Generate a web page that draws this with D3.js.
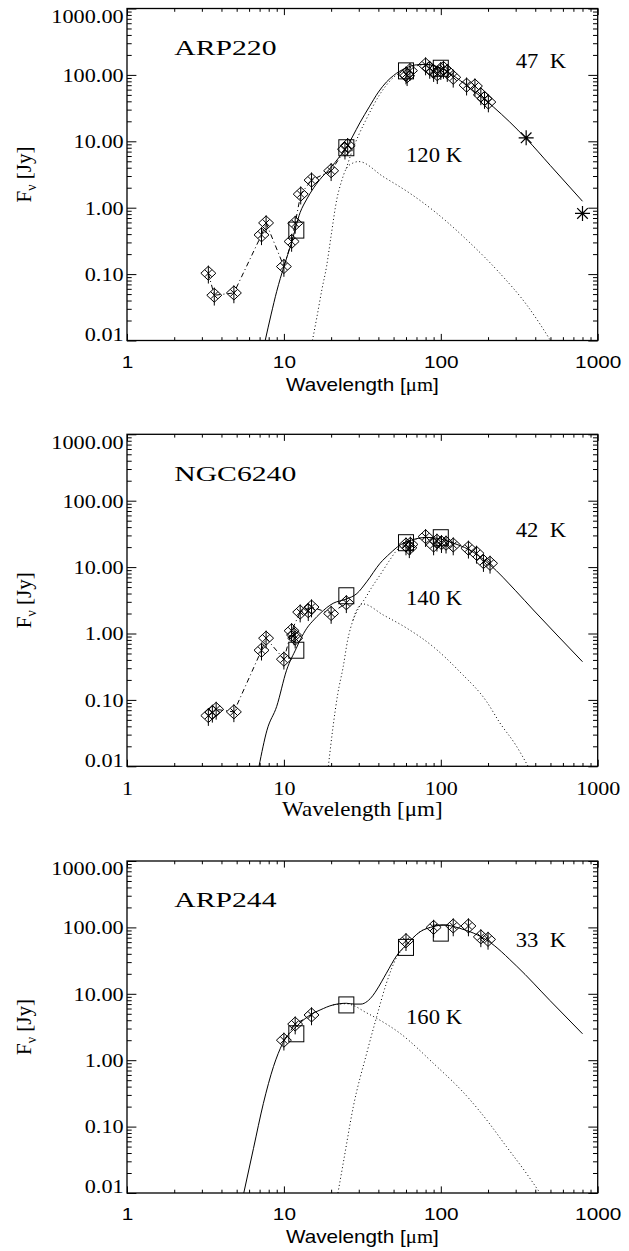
<!DOCTYPE html>
<html><head><meta charset="utf-8">
<script src="https://cdn.jsdelivr.net/npm/d3@7"></script>
<style>body{margin:0;background:#fff}svg{display:block}</style>
</head><body>
<svg id="c" width="629" height="1251"></svg>
<script>
// ---------------- DATA (wavelength [um], flux [Jy]) ----------------
const galaxyNames = ["ARP220", "NGC6240", "ARP244"];
const xTickLabels = ["1", "10", "100", "1000"];
const yTickLabels = ["0.01", "0.10", "1.00", "10.00", "100.00", "1000.00"];

// ARP220
const arp220Diamonds = [[3.3,0.103],[3.6,0.048],[4.8,0.052],[7.2,0.39],[7.7,0.59],[10,0.13],[11.2,0.31],[11.8,0.58],[12.8,1.6],[15,2.6],[20,3.6],[24.5,7.6],[25.5,8.6],
  [60,103],[61,97],[63.6,116],[80,141],[85,125],[90,112],[95,104],[100,120],[104,125],[110,112],[120,92],[146,70],[165,68],[180,50],[190,44],[201,39]];
const arp220Squares = [[12,0.46],[25,8.0],[60,115],[100,126]];
const arp220Stars = [[350,11.3],[800,0.82]];
const arp220DashDot = [[3.3,0.103],[3.6,0.048],[4.8,0.052],[7.2,0.39],[7.7,0.59],[10,0.13],[11.2,0.31],[11.8,0.58],[12.8,1.6],[15,2.6],[20,3.6],[25,8.0]];
const arp220Total = [[7.6,0.01],[8.3,0.025],[9,0.055],[10,0.13],[11.2,0.3],[12.7,0.85],[14,1.35],[15.5,2.0],[17.5,2.9],[19.7,3.9],[22.8,6.0],[25,8.0],[27.5,12],[30.5,19],[35,33],[40,55],[45,78],[50,98],[60,127],[70,142],[80,144],[100,127],[120,98],[150,66],[216,33],[350,11],[500,4.3],[800,1.25]];
const arp220Warm = [[15.2,0.01],[16.2,0.022],[17.5,0.06],[18.7,0.13],[20,0.38],[21.7,1.31],[23.3,2.5],[25,3.9],[27.5,4.7],[30,4.95],[43,2.93],[63.5,1.65],[94.5,0.82],[146,0.33],[238,0.103],[354,0.034],[430,0.0175],[500,0.01]];
const arp220Cold = [[25,3.9],[27,6.8],[30,12.5],[33,20],[36,30],[40,47],[45,70],[50,92],[55,108],[60,121],[70,137],[80,142],[100,127]];
const arp220Temps = [["47  K",300,127],["120 K",60,4.9]];

// NGC6240
const ngc6240Diamonds = [[3.3,0.058],[3.5,0.065],[3.7,0.072],[4.8,0.066],[7.2,0.56],[7.7,0.85],[10,0.41],[11.2,1.1],[11.6,0.95],[11.8,0.85],[12.7,2.1],[14.3,2.2],[15,2.5],[20,2.0],[25,2.9],
  [60,21.5],[63,19.5],[64,22],[80,28.7],[90,21.5],[94.5,24.5],[101,23.3],[108,22.9],[120,21.5],[150,19.2],[169,16.1],[187,12.1],[206,11.4]];
const ngc6240Squares = [[12,0.56],[25,3.7],[60,23.3],[100,27.7]];
const ngc6240Stars = [];
const ngc6240DashDot = [[3.3,0.058],[3.5,0.065],[3.7,0.072],[4.8,0.066],[7.2,0.56],[7.7,0.85],[10,0.41],[11.2,1.1],[12.7,2.1],[15,2.5],[20,2.0],[25,2.9]];
const ngc6240Total = [[6.94,0.01],[7.8,0.035],[9,0.08],[10.4,0.28],[12,0.6],[12.7,0.8],[14,1.2],[15.5,1.6],[17,2.0],[20.6,2.85],[25,3.3],[29.2,4.0],[33.7,6.0],[41,11.4],[47.5,16.1],[55,21.5],[65,25.5],[81,28],[100,26.5],[120,23],[150,18.5],[206,10.8],[300,4.4],[389,2.26],[550,0.95],[800,0.376]];
const ngc6240Warm = [[19.2,0.01],[20.5,0.037],[22,0.12],[23.9,0.32],[25.5,0.8],[27.6,1.6],[29.2,2.3],[32,2.78],[43,1.9],[60.8,1.2],[89.6,0.63],[132,0.266],[196,0.094],[238,0.045],[300,0.021],[360,0.01]];
const ngc6240Cold = [[27.6,1.6],[30,2.45],[33,3.4],[36,4.8],[41,7.6],[47,12.5],[52,17.5],[57,21.5],[65,25],[81,28]];
const ngc6240Temps = [["42  K",300,28.4],["140 K",60,2.7]];

// ARP244
const arp244Diamonds = [[10,2.0],[11.8,3.5],[15,4.8],[60,63],[90,100],[120,105],[150,105],[180,72],[200,66]];
const arp244Squares = [[12,2.5],[25,6.8],[60,50],[100,82]];
const arp244Stars = [];
const arp244DashDot = [[10,2.0],[11.8,3.5],[15,4.8]];
const arp244Total = [[5.55,0.01],[6.4,0.047],[7.4,0.224],[8.58,0.8],[9.83,1.8],[12,3.2],[14.7,4.8],[17,5.7],[20.6,6.8],[25,7.2],[28,7.0],[31,7.0],[34,7.7],[37,9.5],[39,11.4],[45,20.4],[52.5,38],[60,54],[73.8,86],[90,103],[104,109],[132,97],[196,64.6],[305,26],[497,7.9],[800,2.5]];
const arp244Warm = [[20.6,6.8],[25,7.1],[28,6.6],[33,5.3],[39,4.28],[55,2.54],[89.6,0.9],[146,0.29],[196,0.126],[262,0.05],[340,0.022],[429,0.01]];
const arp244Cold = [[22.1,0.01],[24,0.03],[27.7,0.2],[33.7,1.27],[39,4.5],[45,14.4],[52.5,36],[60,53],[73.8,86],[90,103]];
const arp244Temps = [["33  K",300,50],["160 K",60,3.5]];

const nameAnchor = [2, 200];
const errFrac = 0.3;

// ---------------- LAYOUT ----------------
const panels = [
  {name: galaxyNames[0], dia: arp220Diamonds, sq: arp220Squares, st: arp220Stars, dd: arp220DashDot, tot: arp220Total, warm: arp220Warm, cold: arp220Cold, temps: arp220Temps, top: 8.5, sans: true},
  {name: galaxyNames[1], dia: ngc6240Diamonds, sq: ngc6240Squares, st: ngc6240Stars, dd: ngc6240DashDot, tot: ngc6240Total, warm: ngc6240Warm, cold: ngc6240Cold, temps: ngc6240Temps, top: 434.3, sans: false},
  {name: galaxyNames[2], dia: arp244Diamonds, sq: arp244Squares, st: arp244Stars, dd: arp244DashDot, tot: arp244Total, warm: arp244Warm, cold: arp244Cold, temps: arp244Temps, top: 861, sans: true}
];
const X0 = 127, X1 = 597.7, H = 332;
const SERIF = "'Liberation Serif','Times New Roman',serif";
const SANS = "'Liberation Sans',Arial,sans-serif";

const svg = d3.select("#c");
const xMaj = [1, 10, 100, 1000];
const xMin = [];
for (let k = 0; k < 3; k++) for (let m = 2; m <= 9; m++) xMin.push(m * Math.pow(10, k));
const yMaj = [0.01, 0.1, 1, 10, 100, 1000];
const yMin = [];
for (let k = -2; k < 3; k++) for (let m = 2; m <= 9; m++) yMin.push(+(m * Math.pow(10, k)).toPrecision(3));

panels.forEach((p, i) => {
  const top = p.top, bot = top + H;
  const x = d3.scaleLog().domain([1, 1000]).range([X0, X1]);
  const y = d3.scaleLog().domain([0.01, 1000]).range([bot, top]);
  const g = svg.append("g");

  const clipId = "clip" + i;
  svg.append("clipPath").attr("id", clipId).append("rect")
    .attr("x", X0).attr("y", top).attr("width", X1 - X0).attr("height", H);
  const plot = g.append("g").attr("clip-path", `url(#${clipId})`);

  const smooth = d3.line().x(d => x(d[0])).y(d => y(d[1])).curve(d3.curveMonotoneX);
  const straight = d3.line().x(d => x(d[0])).y(d => y(d[1]));

  plot.append("path").datum(p.warm).attr("d", smooth).attr("fill", "none")
    .attr("stroke", "#000").attr("stroke-width", 1).attr("stroke-dasharray", "1,2.6");
  plot.append("path").datum(p.cold).attr("d", smooth).attr("fill", "none")
    .attr("stroke", "#000").attr("stroke-width", 1).attr("stroke-dasharray", "1,2.6");
  plot.append("path").datum(p.tot).attr("d", smooth).attr("fill", "none")
    .attr("stroke", "#000").attr("stroke-width", 1);
  plot.append("path").datum(p.dd).attr("d", straight).attr("fill", "none")
    .attr("stroke", "#000").attr("stroke-width", 1).attr("stroke-dasharray", "5,3,1,3");

  // error bars
  plot.selectAll(".err").data(p.dia).join("line")
    .attr("x1", d => x(d[0])).attr("x2", d => x(d[0]))
    .attr("y1", d => y(d[1] * (1 + errFrac))).attr("y2", d => y(d[1] * (1 - errFrac)))
    .attr("stroke", "#000").attr("stroke-width", 1);
  // diamonds with inner cross
  plot.selectAll(".dia").data(p.dia).join("path")
    .attr("d", d => {
      const cx = x(d[0]), cy = y(d[1]), a = 7.5, b = 7, c = 3.5;
      return `M${cx - a},${cy}L${cx},${cy - b}L${cx + a},${cy}L${cx},${cy + b}Z` +
        `M${cx - c},${cy - c}L${cx + c},${cy + c}M${cx - c},${cy + c}L${cx + c},${cy - c}`;
    })
    .attr("fill", "none").attr("stroke", "#000").attr("stroke-width", 1);
  // squares
  plot.selectAll(".sq").data(p.sq).join("rect")
    .attr("x", d => x(d[0]) - 7.5).attr("y", d => y(d[1]) - 8)
    .attr("width", 15).attr("height", 16)
    .attr("fill", "none").attr("stroke", "#000").attr("stroke-width", 1);
  // asterisks
  plot.selectAll(".st").data(p.st).join("path")
    .attr("d", d => {
      const cx = x(d[0]), cy = y(d[1]), r = 7.5, q = 5.3;
      return `M${cx - r},${cy}L${cx + r},${cy}M${cx},${cy - r}L${cx},${cy + r}` +
        `M${cx - q},${cy - q}L${cx + q},${cy + q}M${cx - q},${cy + q}L${cx + q},${cy - q}`;
    })
    .attr("fill", "none").attr("stroke", "#000").attr("stroke-width", 1.2);

  // box
  g.append("rect").attr("x", X0).attr("y", top).attr("width", X1 - X0).attr("height", H)
    .attr("fill", "none").attr("stroke", "#000").attr("stroke-width", 1.3);

  const noDomain = s => s.select(".domain").remove();
  // bottom axis (major with labels)
  const bx = g.append("g").attr("transform", `translate(0,${bot})`)
    .call(d3.axisBottom(x).tickValues(xMaj).tickSizeInner(-6.6).tickSizeOuter(0)
      .tickFormat((d, j) => xTickLabels[j])).call(noDomain);
  bx.selectAll("text").attr("dy", null).attr("y", p.sans ? 27.5 : 28.4)
    .attr("font-family", p.sans ? SANS : SERIF).attr("font-size", p.sans ? 17.2 : 19.7)
    .attr("transform", p.sans ? "scale(1.21,1)" : "scale(1.12,1)").attr("fill", "#000");
  g.append("g").attr("transform", `translate(0,${bot})`)
    .call(d3.axisBottom(x).tickValues(xMin).tickSizeInner(-3.3).tickSizeOuter(0).tickFormat(""))
    .call(noDomain);
  // top axis
  g.append("g").attr("transform", `translate(0,${top})`)
    .call(d3.axisTop(x).tickValues(xMaj).tickSizeInner(-6.6).tickSizeOuter(0).tickFormat(""))
    .call(noDomain);
  g.append("g").attr("transform", `translate(0,${top})`)
    .call(d3.axisTop(x).tickValues(xMin).tickSizeInner(-3.3).tickSizeOuter(0).tickFormat(""))
    .call(noDomain);
  // left axis
  const ly = g.append("g").attr("transform", `translate(${X0},0)`)
    .call(d3.axisLeft(y).tickValues(yMaj).tickSizeInner(-9.4).tickSizeOuter(0).tickPadding(3)
      .tickFormat((d, j) => yTickLabels[j])).call(noDomain);
  ly.selectAll("text").attr("font-family", SERIF).attr("font-size", 19.7).attr("fill", "#000")
    .attr("transform", "scale(1.13,1)")
    .attr("y", (d, j) => j === yMaj.length - 1 ? 7.5 : (j === 0 ? -6.5 : 0));
  g.append("g").attr("transform", `translate(${X0},0)`)
    .call(d3.axisLeft(y).tickValues(yMin).tickSizeInner(-4.7).tickSizeOuter(0).tickFormat(""))
    .call(noDomain);
  // right axis
  g.append("g").attr("transform", `translate(${X1},0)`)
    .call(d3.axisRight(y).tickValues(yMaj).tickSizeInner(-9.4).tickSizeOuter(0).tickFormat(""))
    .call(noDomain);
  g.append("g").attr("transform", `translate(${X1},0)`)
    .call(d3.axisRight(y).tickValues(yMin).tickSizeInner(-4.7).tickSizeOuter(0).tickFormat(""))
    .call(noDomain);
  g.selectAll(".tick line").attr("stroke-width", 1);

  // x title
  const xt = g.append("text")
    .attr("transform", `translate(${(X0 + X1) / 2},${bot + 50}) scale(1.15,1)`)
    .attr("text-anchor", "middle").attr("font-size", p.sans ? 18 : 20)
    .attr("font-family", p.sans ? SANS : SERIF);
  xt.append("tspan").text("Wavelength [");
  xt.append("tspan").attr("font-family", SERIF).text("μm");
  xt.append("tspan").text("]");

  // y title
  const yt = g.append("text")
    .attr("transform", `translate(31,${(top + bot) / 2}) rotate(-90)`)
    .attr("text-anchor", "middle").attr("font-size", 21).attr("font-family", SERIF);
  yt.append("tspan").text("F");
  yt.append("tspan").attr("font-size", 14).attr("dy", 5).text("ν");
  yt.append("tspan").attr("dy", -5).text(" [Jy]");

  // galaxy name
  g.append("text")
    .attr("transform", `translate(${x(nameAnchor[0])},${y(nameAnchor[1])}) scale(1.35,1)`)
    .attr("font-family", SERIF).attr("font-size", 22).text(p.name);
  // temperatures
  g.selectAll(".temp").data(p.temps).join("text")
    .attr("transform", d => `translate(${x(d[1])},${y(d[2])}) scale(1.03,1)`)
    .attr("font-family", SERIF).attr("font-size", 22)
    .style("white-space", "pre").text(d => d[0]);
});
</script>
</body></html>
